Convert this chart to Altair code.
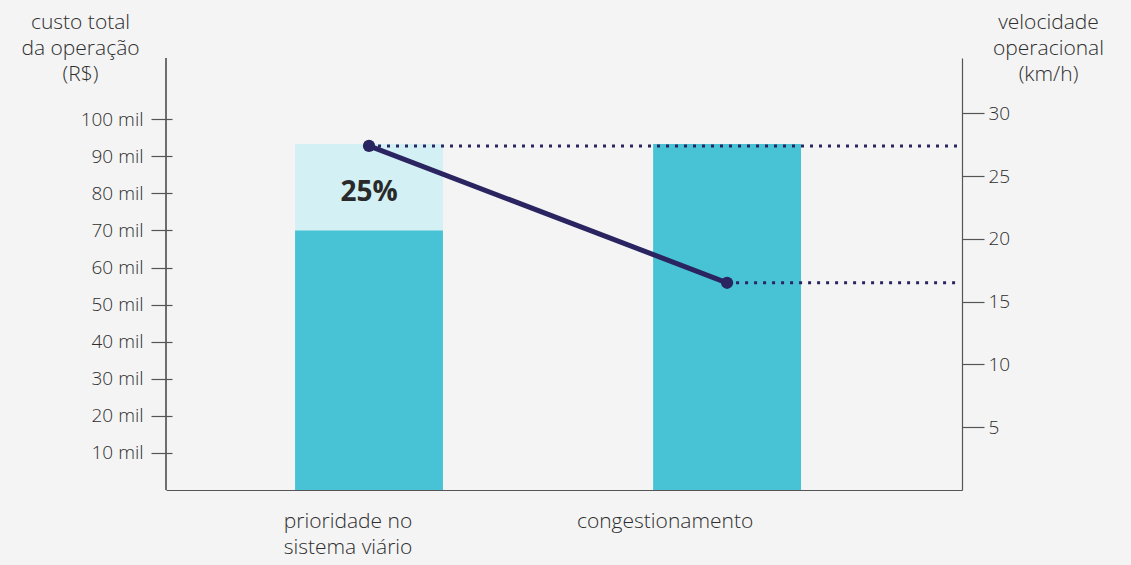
import altair as alt
import pandas as pd

# ---- data -------------------------------------------------------------
categorias = ["prioridade no\nsistema viário", "congestionamento"]
custo_sem_prioridade = [93.3, 93.3]   # mil R$ (barra clara / total)
custo_com_prioridade = [70.0, 93.3]   # mil R$ (barra escura)
velocidade = [27.4, 16.5]             # km/h
rotulo_reducao = ["25%", ""]
ticks_custo = [10, 20, 30, 40, 50, 60, 70, 80, 90, 100]
ticks_velocidade = [5, 10, 15, 20, 25, 30]
titulo_custo = ["custo total", "da operação", "(R$)"]
titulo_velocidade = ["velocidade", "operacional", "(km/h)"]

df = pd.DataFrame({
    "categoria": categorias,
    "custo_sem": custo_sem_prioridade,
    "custo_com": custo_com_prioridade,
    "velocidade": velocidade,
    "rotulo": rotulo_reducao,
})
df["meio"] = (df["custo_sem"] + df["custo_com"]) / 2

W, H = 796, 432
TXT = "#2e2e2e"
AX = "#555555"
TEAL = "#48C3D5"
LIGHT = "#D3F0F4"
NAVY = "#2A2461"
FW = 300

x_enc = alt.X(
    "categoria:N",
    sort=categorias,
    scale=alt.Scale(paddingInner=0.587, paddingOuter=0.405, align=0.445),
    axis=alt.Axis(
        title=None, ticks=False, domain=True, domainColor=AX, domainWidth=1.2,
        labelAngle=0, labelFontSize=21, labelColor=TXT, labelPadding=20,
        labelBaseline="top", labelLineHeight=26, labelLimit=0, labelFontWeight=FW,
        labelExpr="split(datum.value, '\\n')",
        labelOffset={"condition": {"test": "datum.value == 'congestionamento'", "value": -62}, "value": -21},
    ),
)

axis_custo = alt.Axis(
    values=ticks_custo, labelExpr="datum.value + ' mil'", orient="left",
    offset=-6, domain=False, grid=False, tickSize=21, tickColor=AX, tickWidth=1.2,
    labelPadding=8, labelFontSize=19, labelColor=TXT, labelFontWeight=FW,
    title=titulo_custo, titleAngle=0, titleAlign="center", titleBaseline="alphabetic",
    titleX=-92, titleY=-30, titleFontSize=21, titleFontWeight=FW,
    titleColor=TXT, titleLineHeight=26,
)
scale_custo = alt.Scale(domain=[0, 116.5], nice=False, zero=True)

axis_vel = alt.Axis(
    values=ticks_velocidade, orient="right", domain=True, domainColor=AX, domainWidth=1.2,
    grid=False, tickSize=22, tickColor=AX, tickWidth=1.2,
    labelPadding=4, labelFontSize=19, labelColor=TXT, labelFontWeight=FW,
    title=titulo_velocidade, titleAngle=0, titleAlign="center", titleBaseline="alphabetic",
    titleX=86, titleY=-30, titleFontSize=21, titleFontWeight=FW,
    titleColor=TXT, titleLineHeight=26,
)
scale_vel = alt.Scale(domain=[0, 34.4], nice=False, zero=True)

base = alt.Chart(df)

barra_clara = base.mark_bar(color=LIGHT).encode(
    x=x_enc, y=alt.Y("custo_sem:Q", scale=scale_custo, axis=axis_custo))
barra_escura = base.mark_bar(color=TEAL).encode(
    x=x_enc, y=alt.Y("custo_com:Q", scale=scale_custo, axis=axis_custo))
texto = base.transform_filter("datum.rotulo != ''").mark_text(
    fontSize=28, fontWeight="bold", color="#2a2a2a", baseline="middle", dy=6
).encode(x=x_enc, y=alt.Y("meio:Q", scale=scale_custo, axis=axis_custo), text="rotulo:N")
linha_eixo = base.mark_rule(color=AX, strokeWidth=1.2).encode(
    x=alt.value(0), y=alt.value(0), y2=alt.value(H))

custo = alt.layer(barra_clara, barra_escura, texto, linha_eixo)

y_vel = alt.Y("velocidade:Q", scale=scale_vel, axis=axis_vel)
pontilhado = base.mark_rule(color=NAVY, strokeWidth=3, strokeDash=[3, 6]).encode(
    x=x_enc, x2=alt.value(W - 4), y=y_vel)
linha = base.mark_line(color=NAVY, strokeWidth=5).encode(x=x_enc, y=y_vel)
pontos = base.mark_circle(color=NAVY, size=150, opacity=1).encode(x=x_enc, y=y_vel)

vel = alt.layer(pontilhado, linha, pontos)

chart = alt.layer(custo, vel).resolve_scale(y="independent").properties(
    width=W, height=H,
    padding={"left": 166, "top": 58, "right": 169, "bottom": 75},
    autosize=alt.AutoSizeParams(type="none"),
).configure(
    background="#F4F4F4", font="Open Sans"
).configure_view(stroke=None)

chart.save("out.html", embed_options={"renderer": "svg", "actions": False})
